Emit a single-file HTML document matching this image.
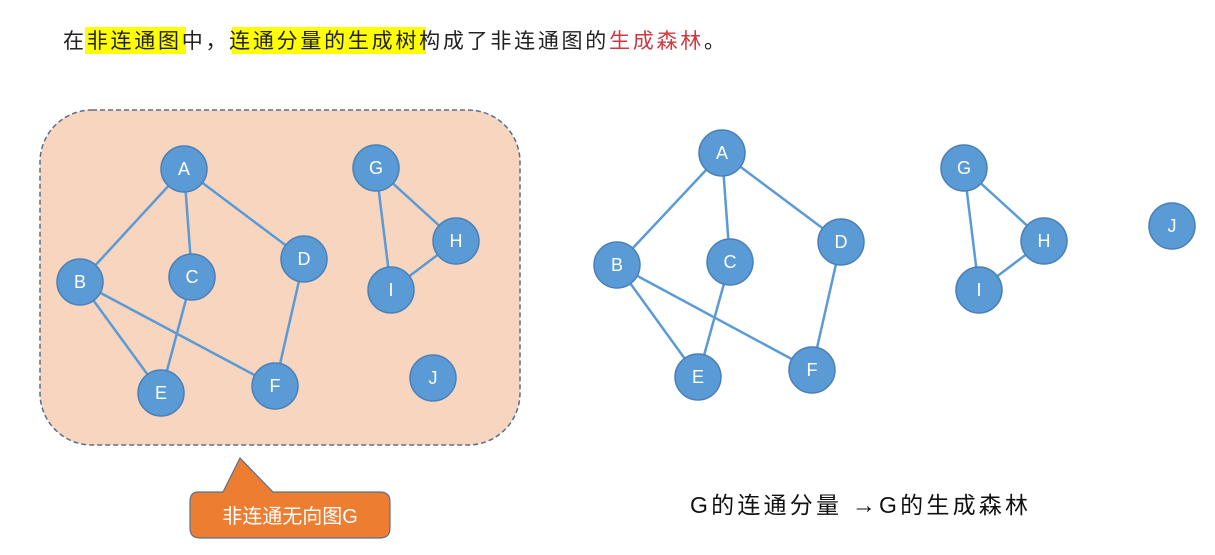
<!DOCTYPE html>
<html><head><meta charset="utf-8"><style>
html,body{margin:0;padding:0;background:#fff;width:1215px;height:555px;overflow:hidden}
text{font-family:"Liberation Sans","Noto Sans CJK SC",sans-serif}
</style></head><body>
<svg width="1215" height="555" xmlns="http://www.w3.org/2000/svg">
<rect x="85" y="27" width="101" height="27" fill="#ffff00"/>
<rect x="232" y="27" width="194" height="27" fill="#ffff00"/>
<text x="63" y="48" font-size="21" fill="#222" textLength="662" lengthAdjust="spacing">在非连通图中，连通分量的生成树构成了非连通图的<tspan fill="#d0383e">生成森林</tspan>。</text>
<rect x="40" y="110" width="480" height="335" rx="52" fill="#f8d5bf" stroke="#5a6f8a" stroke-width="1.5" stroke-dasharray="5,3"/>
<g stroke="#5b9bd5" stroke-width="2.5" fill="none">
<line x1="184" y1="169" x2="80" y2="282"/><line x1="184" y1="169" x2="192" y2="277"/><line x1="184" y1="169" x2="304" y2="259"/>
<line x1="80" y1="282" x2="161" y2="393"/><line x1="80" y1="282" x2="275" y2="386"/><line x1="192" y1="277" x2="161" y2="393"/>
<line x1="304" y1="259" x2="275" y2="386"/><line x1="376" y1="168" x2="456" y2="241"/><line x1="376" y1="168" x2="391" y2="290"/><line x1="456" y1="241" x2="391" y2="290"/>
<line x1="722" y1="153" x2="617" y2="265"/><line x1="722" y1="153" x2="730" y2="262"/><line x1="722" y1="153" x2="841" y2="242"/>
<line x1="617" y1="265" x2="698" y2="377"/><line x1="617" y1="265" x2="812" y2="370"/><line x1="730" y1="262" x2="698" y2="377"/>
<line x1="841" y1="242" x2="812" y2="370"/><line x1="964" y1="168" x2="1044" y2="241"/><line x1="964" y1="168" x2="979" y2="290"/><line x1="1044" y1="241" x2="979" y2="290"/>
</g>
<g fill="#5b9bd5" stroke="#4a80b8" stroke-width="1.5">
<circle cx="184" cy="169" r="23"/><circle cx="80" cy="282" r="23"/><circle cx="192" cy="277" r="23"/><circle cx="304" cy="259" r="23"/>
<circle cx="161" cy="393" r="23"/><circle cx="275" cy="386" r="23"/><circle cx="376" cy="168" r="23"/><circle cx="456" cy="241" r="23"/>
<circle cx="391" cy="290" r="23"/><circle cx="433" cy="378" r="23"/>
<circle cx="722" cy="153" r="23"/><circle cx="617" cy="265" r="23"/><circle cx="730" cy="262" r="23"/><circle cx="841" cy="242" r="23"/>
<circle cx="698" cy="377" r="23"/><circle cx="812" cy="370" r="23"/><circle cx="964" cy="168" r="23"/><circle cx="1044" cy="241" r="23"/>
<circle cx="979" cy="290" r="23"/><circle cx="1172" cy="226" r="23"/>
</g>
<g fill="#fff" font-size="18" text-anchor="middle">
<text x="184" y="175">A</text><text x="80" y="288">B</text><text x="192" y="283">C</text><text x="304" y="265">D</text>
<text x="161" y="399">E</text><text x="275" y="392">F</text><text x="376" y="174">G</text><text x="456" y="247">H</text>
<text x="391" y="296">I</text><text x="433" y="384">J</text>
<text x="722" y="159">A</text><text x="617" y="271">B</text><text x="730" y="268">C</text><text x="841" y="248">D</text>
<text x="698" y="383">E</text><text x="812" y="376">F</text><text x="964" y="174">G</text><text x="1044" y="247">H</text>
<text x="979" y="296">I</text><text x="1172" y="232">J</text>
</g>
<path d="M198,492 L223,492 L240,458 L273,492 L380,492 Q390,492 390,502 L390,528 Q390,538 380,538 L200,538 Q190,538 190,528 L190,502 Q190,492 198,492 Z" fill="#ed7d31" stroke="#5a7090" stroke-width="1.2"/>
<text x="290" y="523" font-size="20" fill="#fff" text-anchor="middle">非连通无向图G</text>
<text x="690" y="513" font-size="23" fill="#111" textLength="338" lengthAdjust="spacing">G的连通分量 <tspan font-weight="bold" font-size="24">→</tspan>G的生成森林</text>
</svg>
</body></html>
